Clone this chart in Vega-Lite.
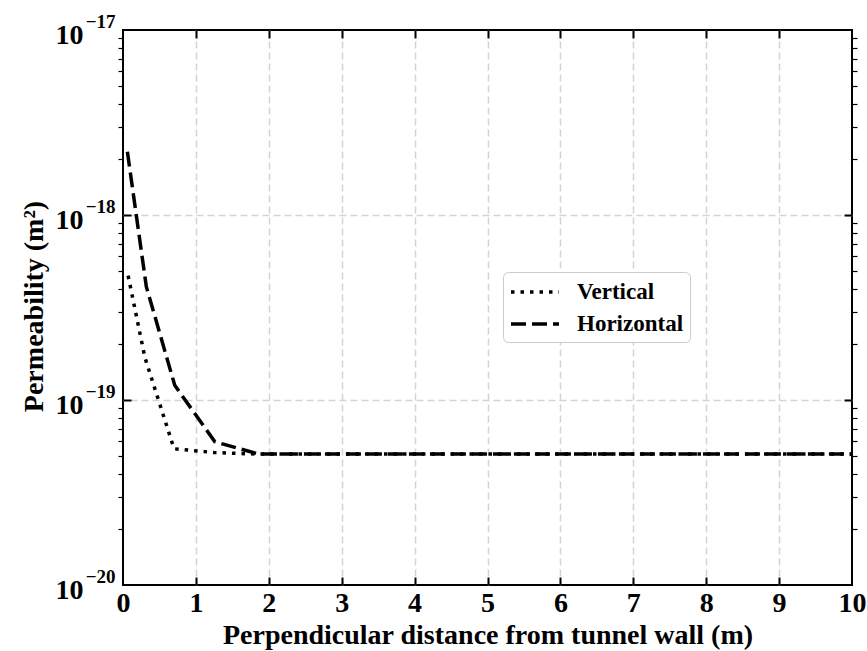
{
  "$schema": "https://vega.github.io/schema/vega-lite/v6.json",
  "width": 729,
  "height": 555,
  "autosize": {"type": "none"},
  "padding": {"left": 123, "top": 30, "right": 15, "bottom": 66},
  "background": "white",
  "config": {
    "font": "Liberation Serif",
    "view": {"stroke": "black", "strokeWidth": 2},
    "axis": {
      "domain": false,
      "grid": false,
      "labelFont": "Liberation Serif",
      "labelFontWeight": "bold",
      "labelColor": "black",
      "titleFont": "Liberation Serif",
      "titleFontWeight": "bold",
      "titleColor": "black",
      "tickColor": "black",
      "labelFlush": false,
      "labelOverlap": false,
      "gridColor": "#d4d4d4",
      "gridDash": [7, 4],
      "gridWidth": 1.5
    }
  },
  "data": {
    "values": [
      {"s": "Vertical", "d": 0.07, "k": 4.7e-19},
      {"s": "Vertical", "d": 0.3, "k": 1.7e-19},
      {"s": "Vertical", "d": 0.7, "k": 5.45e-20},
      {"s": "Vertical", "d": 1.25, "k": 5.2e-20},
      {"s": "Vertical", "d": 1.85, "k": 5.1e-20},
      {"s": "Vertical", "d": 10, "k": 5.1e-20},
      {"s": "Horizontal", "d": 0.06, "k": 2.2e-18},
      {"s": "Horizontal", "d": 0.32, "k": 4.1e-19},
      {"s": "Horizontal", "d": 0.71, "k": 1.2e-19},
      {"s": "Horizontal", "d": 1.26, "k": 5.95e-20},
      {"s": "Horizontal", "d": 1.86, "k": 5.1e-20},
      {"s": "Horizontal", "d": 10, "k": 5.1e-20}
    ]
  },
  "layer": [
    {
      "mark": {"type": "line", "color": "black", "strokeWidth": 3.5},
      "encoding": {
        "x": {"field": "d", "type": "quantitative", "scale": {"domain": [0, 10], "nice": false},
          "axis": {"orient": "bottom", "values": [0,1,2,3,4,5,6,7,8,9,10], "ticks": false, "labelPadding": 4, "labelFontSize": 28,
            "title": "Perpendicular distance from tunnel wall (m)", "titleFontSize": 28, "titlePadding": 4}},
        "y": {"field": "k", "type": "quantitative", "scale": {"type": "log", "domain": [1e-20, 1e-17], "nice": false},
          "axis": {"orient": "left", "values": [1e-20, 1e-19, 1e-18, 1e-17], "ticks": false, "labelExpr": "'10'", "labelFontSize": 28,
            "labelPadding": 40, "labelBaseline": "alphabetic", "labelOffset": 13,
            "title": "Permeability (m²)", "titleFontSize": 28, "titleX": -81, "titleY": 276, "titleBaseline": "alphabetic"}},
        "strokeDash": {"field": "s", "type": "nominal",
          "scale": {"domain": ["Vertical", "Horizontal"], "range": [[3.5, 6], [15, 6]]},
          "legend": {"title": null, "orient": "none", "legendX": 380, "legendY": 242, "symbolType": "M-1,0H3", "symbolSize": 576,
            "symbolStrokeWidth": 3.5, "symbolStrokeColor": "black", "labelFontSize": 23, "labelFont": "Liberation Serif",
            "labelFontWeight": "bold", "labelColor": "black", "labelOffset": 40, "rowPadding": 6, "padding": 6,
            "fillColor": "white", "strokeColor": "#cccccc", "cornerRadius": 5, "labelLimit": 300}}
      }
    },
    {
      "mark": {"type": "point", "opacity": 0},
      "encoding": {
        "x": {"field": "d", "type": "quantitative", "scale": {"domain": [0, 10], "nice": false},
          "axis": {"orient": "bottom", "values": [1,2,3,4,5,6,7,8,9], "labels": false, "tickSize": -8, "tickWidth": 2, "title": null}},
        "y": {"field": "k", "type": "quantitative", "scale": {"type": "log", "domain": [1e-20, 1e-17], "nice": false},
          "axis": {"orient": "left", "values": [1e-20, 1e-19, 1e-18, 1e-17], "ticks": false,
            "labelExpr": "'−' + round(-log(datum.value)/LN10)", "labelFontSize": 19, "labelPadding": 8,
            "labelBaseline": "alphabetic", "labelOffset": -3, "title": null}}
      }
    },
    {
      "mark": {"type": "point", "opacity": 0},
      "encoding": {
        "x": {"field": "d", "type": "quantitative", "scale": {"domain": [0, 10], "nice": false},
          "axis": {"orient": "top", "values": [1,2,3,4,5,6,7,8,9], "labels": false, "tickSize": -8, "tickWidth": 2, "title": null}},
        "y": {"field": "k", "type": "quantitative", "scale": {"type": "log", "domain": [1e-20, 1e-17], "nice": false},
          "axis": {"orient": "left", "values": [1e-19, 1e-18], "labels": false, "tickSize": -8, "tickWidth": 2, "title": null}}
      }
    },
    {
      "mark": {"type": "point", "opacity": 0},
      "encoding": {
        "x": {"field": "d", "type": "quantitative", "scale": {"domain": [0, 10], "nice": false},
          "axis": {"orient": "bottom", "values": [1,2,3,4,5,6,7,8,9], "labels": false, "ticks": false, "grid": true, "title": null}},
        "y": {"field": "k", "type": "quantitative", "scale": {"type": "log", "domain": [1e-20, 1e-17], "nice": false},
          "axis": {"orient": "left", "values": [2e-20,3e-20,4e-20,5e-20,6e-20,7e-20,8e-20,9e-20,2e-19,3e-19,4e-19,5e-19,6e-19,7e-19,8e-19,9e-19,2e-18,3e-18,4e-18,5e-18,6e-18,7e-18,8e-18,9e-18],
            "labels": false, "tickSize": 5, "tickWidth": 1.2, "title": null}}
      }
    },
    {
      "mark": {"type": "point", "opacity": 0},
      "encoding": {
        "x": {"field": "d", "type": "quantitative", "scale": {"domain": [0, 10], "nice": false}, "axis": null},
        "y": {"field": "k", "type": "quantitative", "scale": {"type": "log", "domain": [1e-20, 1e-17], "nice": false},
          "axis": {"orient": "right", "values": [1e-19, 1e-18], "labels": false, "tickSize": -8, "tickWidth": 2, "grid": true, "title": null}}
      }
    },
    {
      "mark": {"type": "point", "opacity": 0},
      "encoding": {
        "x": {"field": "d", "type": "quantitative", "scale": {"domain": [0, 10], "nice": false}, "axis": null},
        "y": {"field": "k", "type": "quantitative", "scale": {"type": "log", "domain": [1e-20, 1e-17], "nice": false},
          "axis": {"orient": "right", "values": [2e-20,3e-20,4e-20,5e-20,6e-20,7e-20,8e-20,9e-20,2e-19,3e-19,4e-19,5e-19,6e-19,7e-19,8e-19,9e-19,2e-18,3e-18,4e-18,5e-18,6e-18,7e-18,8e-18,9e-18],
            "labels": false, "tickSize": 5, "tickWidth": 1.2, "title": null}}
      }
    }
  ],
  "resolve": {"axis": {"x": "independent", "y": "independent"}}
}
